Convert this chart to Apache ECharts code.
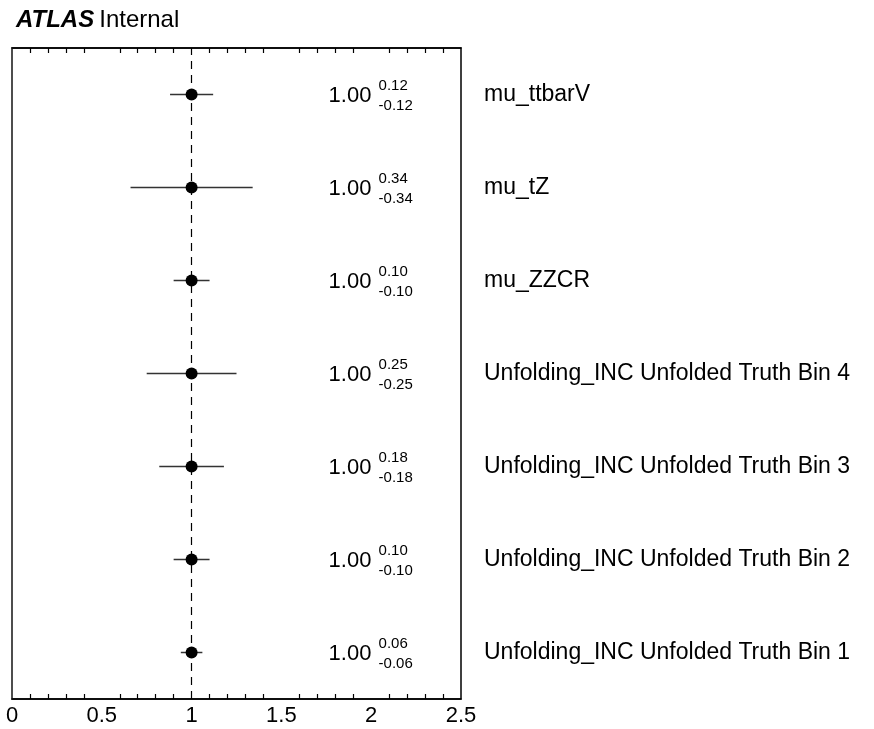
<!DOCTYPE html>
<html lang="en">
<head>
    <meta charset="UTF-8">
    <title>ATLAS pulls</title>
    <script type="text/javascript" src="https://cdn.jsdelivr.net/npm/echarts@6/dist/echarts.min.js"></script>
    <style>
        body { margin: 0; background: #fff; }
    </style>
</head>
<body>
<div id="main" style="width: 874px;height:729px;"></div>

<script>
    // rows from bottom to top
    var paramNames = [
        'Unfolding_INC Unfolded Truth Bin 1',
        'Unfolding_INC Unfolded Truth Bin 2',
        'Unfolding_INC Unfolded Truth Bin 3',
        'Unfolding_INC Unfolded Truth Bin 4',
        'mu_ZZCR',
        'mu_tZ',
        'mu_ttbarV'
    ];
    var centralValues = [1.00, 1.00, 1.00, 1.00, 1.00, 1.00, 1.00];
    var errUp = [0.06, 0.10, 0.18, 0.25, 0.10, 0.34, 0.12];
    var errDown = [0.06, 0.10, 0.18, 0.25, 0.10, 0.34, 0.12];
    var xTickLabels = ['0', '0.5', '1', '1.5', '2', '2.5'];
    var refValue = 1;

    var font = '"Liberation Sans", Arial, Helvetica, sans-serif';

    var chart = echarts.init(document.getElementById('main'));

    var seriesData = [];
    for (var i = 0; i < paramNames.length; i++) {
        seriesData.push([centralValues[i], i, errUp[i], errDown[i]]);
    }

    function renderPull(params, api) {
        var v = api.value(0);
        var row = api.value(1);
        var up = api.value(2);
        var down = api.value(3);
        var p = api.coord([v, row]);
        var lo = api.coord([v - down, row]);
        var hi = api.coord([v + up, row]);
        return {
            type: 'group',
            children: [
                {
                    type: 'line',
                    shape: { x1: lo[0], y1: lo[1], x2: hi[0], y2: hi[1] },
                    style: { stroke: '#333', lineWidth: 1.5 }
                },
                {
                    type: 'circle',
                    shape: { cx: p[0], cy: p[1], r: 6 },
                    style: { fill: '#000' }
                },
                {
                    type: 'text',
                    x: p[0] + 137, y: p[1] + 1.5,
                    style: {
                        text: v.toFixed(2), font: '22px ' + font, fill: '#000',
                        verticalAlign: 'middle', align: 'left'
                    }
                },
                {
                    type: 'text',
                    x: p[0] + 187, y: p[1] - 9,
                    style: {
                        text: up.toFixed(2), font: '15px ' + font, fill: '#000',
                        verticalAlign: 'middle', align: 'left'
                    }
                },
                {
                    type: 'text',
                    x: p[0] + 187, y: p[1] + 11,
                    style: {
                        text: '-' + down.toFixed(2), font: '15px ' + font, fill: '#000',
                        verticalAlign: 'middle', align: 'left'
                    }
                }
            ]
        };
    }

    var option = {
        backgroundColor: '#fff',
        animation: false,
        title: {
            left: 11,
            top: 3,
            text: '{b|ATLAS} {n|Internal}',
            textStyle: {
                rich: {
                    b: { fontFamily: font, fontSize: 24, fontWeight: 'bold', fontStyle: 'italic', color: '#000' },
                    n: { fontFamily: font, fontSize: 24, fontWeight: 'normal', color: '#000' }
                }
            }
        },
        grid: {
            left: 12,
            right: 413,
            top: 48,
            bottom: 30,
            containLabel: false,
            outerBoundsMode: 'none',
            show: true,
            borderColor: '#000',
            borderWidth: 1.5
        },
        xAxis: [
            {
                type: 'value',
                position: 'bottom',
                min: 0,
                max: 2.5,
                interval: 0.5,
                splitLine: { show: false },
                axisLine: { show: true, lineStyle: { color: '#000', width: 1.5 } },
                axisTick: { inside: true, length: 10, lineStyle: { color: '#000', width: 1.2 } },
                minorTick: { show: true, splitNumber: 5, length: 5, lineStyle: { color: '#000', width: 1.2 } },
                minorSplitLine: { show: false },
                axisLabel: {
                    margin: 6,
                    fontFamily: font,
                    fontSize: 22,
                    color: '#000',
                    formatter: function (val) {
                        return xTickLabels[Math.round(val / 0.5)];
                    }
                }
            },
            {
                type: 'value',
                position: 'top',
                min: 0,
                max: 2.5,
                interval: 0.5,
                splitLine: { show: false },
                axisLine: { show: true, lineStyle: { color: '#000', width: 1.5 } },
                axisTick: { inside: true, length: 10, lineStyle: { color: '#000', width: 1.2 } },
                minorTick: { show: true, splitNumber: 5, length: 5, lineStyle: { color: '#000', width: 1.2 } },
                axisLabel: { show: false }
            }
        ],
        yAxis: {
            type: 'category',
            position: 'right',
            data: paramNames,
            boundaryGap: true,
            axisLine: { show: true, lineStyle: { color: '#555', width: 1.5 } },
            axisTick: { show: false },
            splitLine: { show: false },
            axisLabel: {
                margin: 23,
                fontFamily: font,
                fontSize: 23,
                color: '#000',
                align: 'left'
            }
        },
        series: [
            {
                type: 'scatter',
                data: [],
                z: 1,
                markLine: {
                    silent: true,
                    symbol: 'none',
                    label: { show: false },
                    lineStyle: { color: '#000', width: 1.2, type: [8, 6] },
                    data: [{ xAxis: refValue }]
                }
            },
            {
                type: 'custom',
                z: 5,
                renderItem: renderPull,
                encode: { x: 0, y: 1 },
                data: seriesData
            }
        ]
    };

    chart.setOption(option);
</script>
</body>
</html>
